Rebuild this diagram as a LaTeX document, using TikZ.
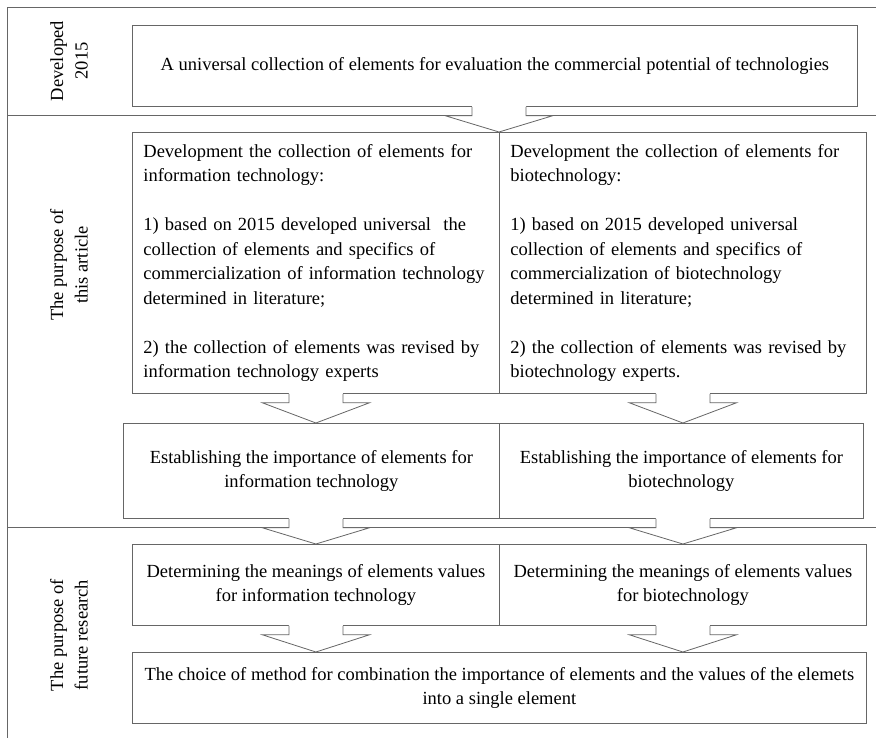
\documentclass[tikz,border=0pt]{standalone}
\usepackage{fontspec}
\setmainfont{Liberation Serif}
\usetikzlibrary{calc}
\tikzset{
  duongke/.style={draw=black!60, line width=0.8pt},
  hop/.style={duongke, rectangle, anchor=north west, inner sep=0pt, align=center,
    font=\fontsize{18.5}{24.5}\selectfont},
  hopdai/.style={hop, align=left, inner xsep=11pt, text width=345pt},
  nhan/.style={rotate=90, align=center, inner sep=0pt, font=\fontsize{18.5}{24.5}\selectfont}
}
% Mũi tên rỗng: #1 chân, #2 đỉnh
\newcommand{\muiten}[2]{%
  \path (#1) coordinate (mA) (#2) coordinate (mB);
  \fill[white] ($(mA)+(-27,-1)$) -- ($(mA)+(-27,9)$) -- ($(mA)+(-53.5,9)$) -- (mB)
    -- ($(mA)+(53.5,9)$) -- ($(mA)+(27,9)$) -- ($(mA)+(27,-1)$) -- cycle;
  \draw[duongke] ($(mA)+(-27,0)$) -- ($(mA)+(-27,9)$) -- ($(mA)+(-53.5,9)$) -- (mB)
    -- ($(mA)+(53.5,9)$) -- ($(mA)+(27,9)$) -- ($(mA)+(27,0)$);
}
\begin{document}
\begin{tikzpicture}[x=1pt,y=-1pt]
    \useasboundingbox (0,0) rectangle (876,738);
    % Vẽ khung
    \draw[duongke] (876,7) -- (7,7) -- (7,738);
    \draw[duongke] (7,115) -- (876,115);
    \draw[duongke] (7,527) -- (876,527);

    % Nhãn bên trái
    \foreach \y/\ten/\chu in {61/nhanA/{Developed\\2015},
        265/nhanB/{The purpose of\\this article},
        635/nhanC/{The purpose of\\future research}}
    \node[nhan] (\ten) at (69,\y) {\chu};

    % Các ô
    \node[hop, minimum width=725pt, minimum height=81pt] (top) at (132,25)
      {A universal collection of elements for evaluation the commercial potential of technologies};
    \node[hopdai, minimum height=261pt] (devA) at (132,132)
      {Development the collection of elements for\\
       information technology:\\[24.5pt]
       1) based on 2015 developed universal \ the\\
       collection of elements and specifics of\\
       commercialization of information technology\\
       determined in literature;\\[24.5pt]
       2) the collection of elements was revised by\\
       information technology experts};
    \node[hopdai, minimum height=261pt] (devB) at (499,132)
      {Development the collection of elements for\\
       biotechnology:\\[24.5pt]
       1) based on 2015 developed universal\\
       collection of elements and specifics of\\
       commercialization of biotechnology\\
       determined in literature;\\[24.5pt]
       2) the collection of elements was revised by\\
       biotechnology experts.};
    \node[hop, minimum width=376pt, minimum height=95pt] (estA) at (123,423)
      {Establishing the importance of elements for\\information technology};
    \node[hop, minimum width=364pt, minimum height=95pt] (estB) at (499,423)
      {Establishing the importance of elements for\\biotechnology};
    \node[hop, minimum width=367pt, minimum height=81pt] (detA) at (132,544)
      {Determining the meanings of elements values\\for information technology};
    \node[hop, minimum width=367pt, minimum height=81pt] (detB) at (499,544)
      {Determining the meanings of elements values\\for biotechnology};
    \node[hop, minimum width=734pt, minimum height=71pt] (chon) at (132,652)
      {The choice of method for combination the importance of elements and the values of the elemets\\into a single element};

    % Mũi tên
    \muiten{top.south -| devB.north west}{devB.north west}
    \muiten{devA.south}{devA.south |- estA.north}
    \muiten{devB.south}{devB.south |- estB.north}
    \muiten{detA.north |- estA.south}{detA.north}
    \muiten{detB.north |- estB.south}{detB.north}
    \muiten{detA.south}{detA.south |- chon.north}
    \muiten{detB.south}{detB.south |- chon.north}
\end{tikzpicture}
\end{document}
